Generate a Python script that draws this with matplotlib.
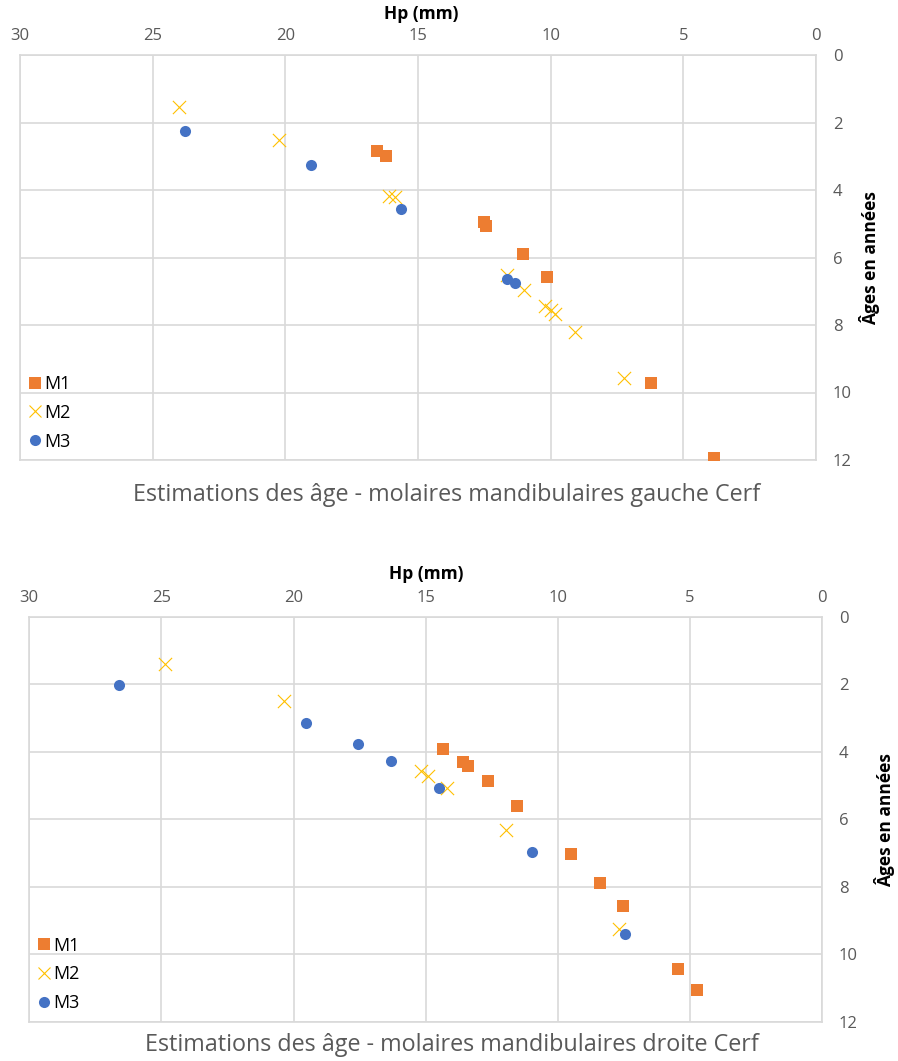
import matplotlib
matplotlib.use("Agg")
import matplotlib.pyplot as plt
from matplotlib.lines import Line2D

plt.rcParams['font.family'] = ['Open Sans', 'DejaVu Sans']

# ---- Data: left (gauche) ----
g_m1_hp = [16.55, 16.2, 12.5, 12.45, 11.05, 10.15, 6.2, 3.85]
g_m1_age = [2.83, 2.99, 4.95, 5.06, 5.9, 6.57, 9.71, 11.93]
g_m2_hp = [24.0, 20.25, 16.1, 15.85, 11.65, 11.0, 10.2, 10.0, 9.85, 9.1, 7.25]
g_m2_age = [1.53, 2.52, 4.18, 4.22, 6.52, 6.96, 7.45, 7.56, 7.67, 8.22, 9.58]
g_m3_hp = [23.8, 19.05, 15.65, 11.65, 11.35]
g_m3_age = [2.24, 3.27, 4.56, 6.64, 6.77]

# ---- Data: right (droite) ----
d_m1_hp = [14.35, 13.6, 13.4, 12.65, 11.55, 9.5, 8.4, 7.55, 5.45, 4.75]
d_m1_age = [3.91, 4.31, 4.43, 4.86, 5.61, 7.03, 7.9, 8.56, 10.43, 11.06]
d_m2_hp = [24.85, 20.35, 15.2, 14.9, 14.2, 11.95, 7.7]
d_m2_age = [1.39, 2.48, 4.56, 4.71, 5.06, 6.33, 9.25]
d_m3_hp = [26.6, 19.55, 17.55, 16.3, 14.5, 11.0, 7.45]
d_m3_age = [2.01, 3.13, 3.78, 4.28, 5.06, 6.97, 9.41]

series_names = ["M1", "M2", "M3"]
titles = ["Estimations des âge - molaires mandibulaires gauche Cerf",
          "Estimations des âge - molaires mandibulaires droite Cerf"]
x_ticks = [30, 25, 20, 15, 10, 5, 0]
y_ticks = [0, 2, 4, 6, 8, 10, 12]

C_M1 = "#ED7D31"
C_M2 = "#FFC000"
C_M3 = "#4472C4"
GRID = "#d9d9d9"
TXT = "#595959"

fig = plt.figure(figsize=(8.98, 10.61), dpi=100)

W, H = 898, 1061
def rect(l, r, t, b):
    return [l / W, 1 - b / H, (r - l) / W, (b - t) / H]

ax1 = fig.add_axes(rect(20, 816, 55, 460))
ax2 = fig.add_axes(rect(29.3, 822.3, 617, 1021.7))

panels = [
    (ax1, (g_m1_hp, g_m1_age), (g_m2_hp, g_m2_age), (g_m3_hp, g_m3_age), titles[0], 447, 495),
    (ax2, (d_m1_hp, d_m1_age), (d_m2_hp, d_m2_age), (d_m3_hp, d_m3_age), titles[1], 452, 1045),
]

for ax, m1, m2, m3, title, tx, ty in panels:
    ax.scatter(m1[0], m1[1], marker="s", s=9.0**2, color=C_M1, linewidths=0, zorder=3)
    ax.scatter(m2[0], m2[1], marker="x", s=9.5**2, color=C_M2, linewidths=0.8, zorder=3)
    ax.scatter(m3[0], m3[1], marker="o", s=8.0**2, color=C_M3, linewidths=0, zorder=3)
    ax.set_xlim(30, 0)
    ax.set_ylim(12, 0)
    ax.set_xticks(x_ticks)
    ax.set_yticks(y_ticks)
    ax.xaxis.tick_top()
    ax.yaxis.tick_right()
    ax.tick_params(axis="both", length=0, labelsize=12, labelcolor=TXT)
    ax.tick_params(axis="x", pad=8)
    ax.tick_params(axis="y", pad=12)
    ax.grid(True, color=GRID, linewidth=1.2)
    ax.set_axisbelow(True)
    for sp in ax.spines.values():
        sp.set_color(GRID)
        sp.set_linewidth(1.2)
    handles = [
        Line2D([], [], marker="s", linestyle="none", markersize=8.5, color=C_M1, markeredgewidth=0),
        Line2D([], [], marker="x", linestyle="none", markersize=9, color=C_M2, markeredgewidth=0.8),
        Line2D([], [], marker="o", linestyle="none", markersize=8, color=C_M3, markeredgewidth=0),
    ]
    ax.legend(handles, series_names, loc="lower left", bbox_to_anchor=(0.0, 0.0),
              frameon=False, fontsize=13, handlelength=0.6, handletextpad=0.2,
              labelspacing=0.6, borderaxespad=0.12)
    fig.text(tx / W, 1 - ty / H, title, ha="center", va="center", fontsize=16.8, color=TXT)

fig.text(421 / W, 1 - 14 / H, "Hp (mm)", ha="center", va="center", fontsize=12.5, fontweight="bold", color="black")
fig.text(426 / W, 1 - 574 / H, "Hp (mm)", ha="center", va="center", fontsize=12.5, fontweight="bold", color="black")
fig.text(870 / W, 1 - 258 / H, "Âges en années", ha="center", va="center", rotation=90, fontsize=12.5, fontweight="bold", color="black")
fig.text(885 / W, 1 - 820 / H, "Âges en années", ha="center", va="center", rotation=90, fontsize=12.5, fontweight="bold", color="black")

fig.savefig("out.png", dpi=100)
